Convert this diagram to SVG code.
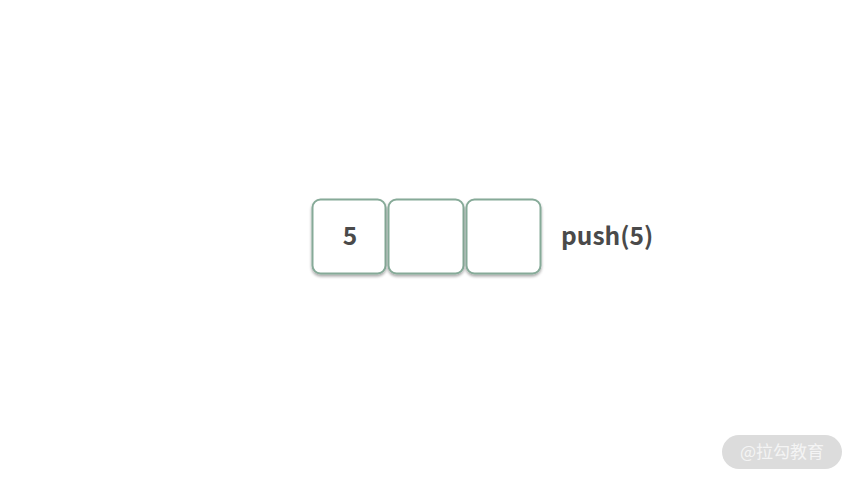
<svg xmlns="http://www.w3.org/2000/svg" width="853" height="480" viewBox="0 0 853 480">
<defs>
<filter id="sh" x="-20%" y="-20%" width="140%" height="140%">
<feGaussianBlur in="SourceAlpha" stdDeviation="1.5"/>
<feOffset dx="0" dy="2"/>
<feComponentTransfer><feFuncA type="linear" slope="0.35"/></feComponentTransfer>
<feMerge><feMergeNode/><feMergeNode in="SourceGraphic"/></feMerge>
</filter>
</defs>
<style>
.cell{fill:#ffffff;stroke:#86aa98;stroke-width:2;filter:url(#sh)}
.t{font-family:"Noto Sans CJK SC","Noto Sans",sans-serif;font-weight:bold;fill:#4a4a4a}
.wm{font-family:"Noto Sans CJK SC",sans-serif;fill:#f4f4f4;font-size:17px}
</style>
<rect width="853" height="480" fill="#ffffff"/>
<g id="cell0"><rect class="cell" x="312.5" y="199.5" width="73" height="74" rx="8"/><text class="t" x="350" y="245" font-size="24.5" text-anchor="middle">5</text></g>
<g id="cell1"><rect class="cell" x="388.5" y="199.5" width="75" height="74" rx="8"/></g>
<g id="cell2"><rect class="cell" x="466.5" y="199.5" width="74" height="74" rx="8"/></g>
<g id="label"><text class="t" x="561" y="245" font-size="24.5">push(5)</text></g>
<g id="connectors"/>
<g id="watermark"><rect x="722" y="435" width="120" height="34" rx="17" fill="#dcdcdc"/><text class="wm" x="782" y="458" text-anchor="middle">@拉勾教育</text></g>
</svg>
